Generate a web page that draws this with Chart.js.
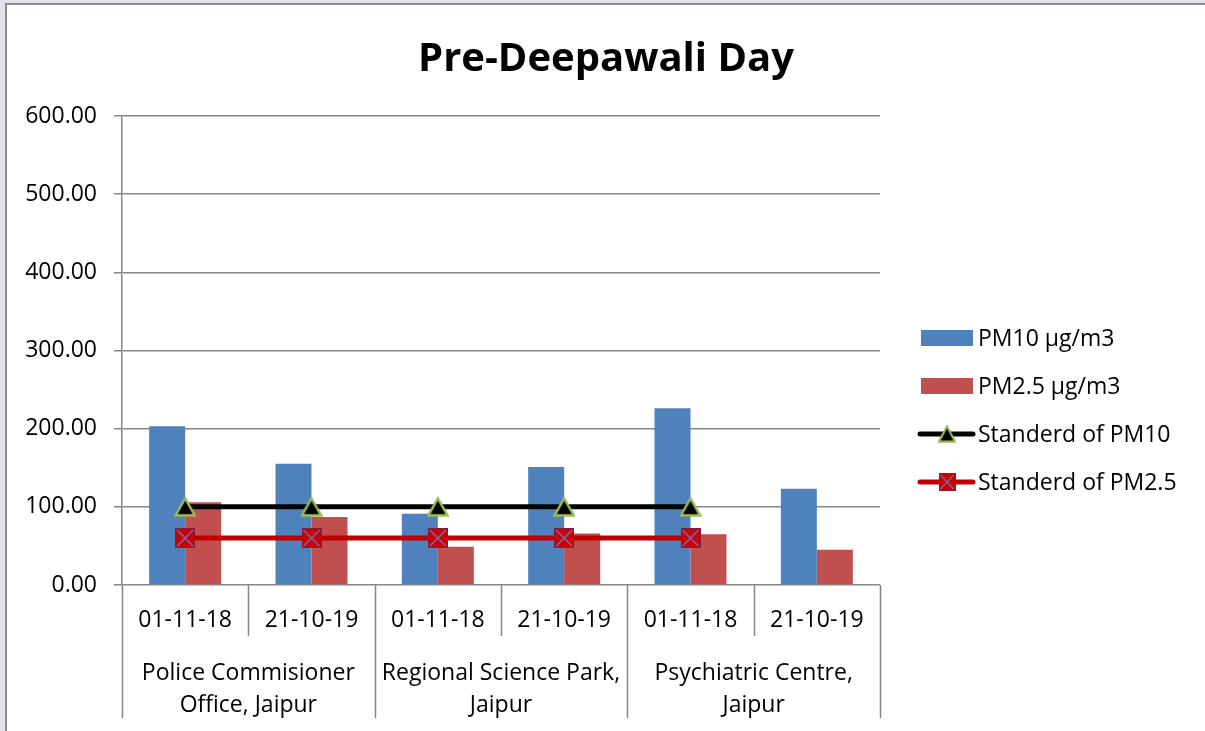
<!DOCTYPE html>
<html>
<head>
<meta charset="utf-8">
<script src="https://cdn.jsdelivr.net/npm/chart.js@4.4.1/dist/chart.umd.min.js"></script>
<style>
  html, body { margin: 0; padding: 0; background: #e3dfeb; }
  #wrap { width: 1205px; height: 731px; position: relative; }
</style>
</head>
<body>
<div id="wrap"><canvas id="c" width="1205" height="731"></canvas></div>
<script>
// Sampling dates (inner axis level) and monitoring sites (outer axis level)
const dates = ['01-11-18', '21-10-19', '01-11-18', '21-10-19', '01-11-18', '21-10-19'];
const sites = [
  ['Police Commisioner', 'Office, Jaipur'],
  ['Regional Science Park,', 'Jaipur'],
  ['Psychiatric Centre,', 'Jaipur']
];
// Measured concentrations
const pm10 = [203, 155, 91, 151, 226, 123];
const pm25 = [106, 87, 49, 66, 65, 45];
// National standards
const stdPm10 = [100, 100, 100, 100, 100, null];
const stdPm25 = [60, 60, 60, 60, 60, null];
// Value axis
const yMin = 0, yMax = 600, yStep = 100;

const FONT = '"Open Sans"';
const GRID = '#868686';
const BLUE = '#4f81bd', RED = '#c0504d';

// Marker images
function triangleMarker(w, h) {
  const c = document.createElement('canvas');
  c.width = w; c.height = h;
  const g = c.getContext('2d');
  g.beginPath();
  g.moveTo(w / 2, 1.5);
  g.lineTo(w - 1.5, h - 1.5);
  g.lineTo(1.5, h - 1.5);
  g.closePath();
  g.fillStyle = '#000';
  g.fill();
  g.strokeStyle = '#9bbb59';
  g.lineWidth = 2.5;
  g.stroke();
  return c;
}
function crossBoxMarker(s) {
  const c = document.createElement('canvas');
  c.width = s; c.height = s;
  const g = c.getContext('2d');
  g.fillStyle = '#cc0000';
  g.fillRect(0, 0, s, s);
  g.strokeStyle = '#8b1a3a';
  g.lineWidth = 1;
  g.strokeRect(0.5, 0.5, s - 1, s - 1);
  g.strokeStyle = '#7a6bb5';
  g.lineWidth = 1.6;
  g.beginPath();
  g.moveTo(2, 2); g.lineTo(s - 2, s - 2);
  g.moveTo(s - 2, 2); g.lineTo(2, s - 2);
  g.stroke();
  return c;
}
const triImg = triangleMarker(22, 20);
const boxImg = crossBoxMarker(20);

// Card background and border
const cardPlugin = {
  id: 'card',
  beforeDraw(chart) {
    const ctx = chart.ctx;
    ctx.save();
    ctx.fillStyle = '#e3dfeb';
    ctx.fillRect(0, 0, chart.width, chart.height);
    ctx.fillStyle = '#ffffff';
    ctx.fillRect(6, 4, chart.width - 6, chart.height - 4);
    ctx.strokeStyle = '#8c8c8c';
    ctx.lineWidth = 2;
    ctx.beginPath();
    ctx.moveTo(6, chart.height);
    ctx.lineTo(6, 4);
    ctx.lineTo(chart.width, 4);
    ctx.stroke();
    ctx.restore();
  }
};

// Title, two-level category axis and legend
const decorPlugin = {
  id: 'decor',
  afterDraw(chart) {
    const ctx = chart.ctx;
    const x = chart.scales.x;
    const area = chart.chartArea;
    const n = dates.length;
    const w = (area.right - area.left) / n;
    ctx.save();

    // title
    ctx.fillStyle = '#000';
    ctx.font = `bold 40px ${FONT}`;
    ctx.textAlign = 'center';
    ctx.textBaseline = 'alphabetic';
    ctx.fillText('Pre-Deepawali Day', 606, 71);

    // axis separators
    ctx.strokeStyle = GRID;
    ctx.lineWidth = 1.5;
    for (let i = 0; i <= n; i++) {
      const px = Math.round(area.left + i * w) + 0.5;
      ctx.beginPath();
      ctx.moveTo(px, area.bottom);
      ctx.lineTo(px, area.bottom + (i % 2 === 0 ? 133 : 51));
      ctx.stroke();
    }

    // date labels
    ctx.textBaseline = 'middle';
    ctx.font = `23px ${FONT}`;
    ctx.fillStyle = '#000';
    dates.forEach((d, i) => {
      ctx.fillText(d, x.getPixelForValue(i), area.bottom + 35);
    });
    // site labels
    sites.forEach((lines, k) => {
      const cx = (x.getPixelForValue(2 * k) + x.getPixelForValue(2 * k + 1)) / 2;
      lines.forEach((t, j) => ctx.fillText(t, cx, area.bottom + 88 + j * 32));
    });

    // legend
    const ds = chart.data.datasets;
    const lx = 921, tx = 978;
    const rows = [338, 386, 434, 482];
    ctx.textAlign = 'left';
    ctx.font = `23px ${FONT}`;
    rows.forEach((cy, i) => {
      const d = ds[i];
      if (d.type === 'bar') {
        ctx.fillStyle = d.backgroundColor;
        ctx.fillRect(lx, cy - 8, 52, 16);
      } else {
        ctx.strokeStyle = d.borderColor;
        ctx.lineWidth = 5;
        ctx.lineCap = 'round';
        ctx.beginPath();
        ctx.moveTo(lx - 1, cy);
        ctx.lineTo(lx + 52, cy);
        ctx.stroke();
        const img = d.pointStyle;
        const iw = img.width * 0.85, ih = img.height * 0.9;
        ctx.drawImage(img, lx + 26 - iw / 2, cy - ih / 2, iw, ih);
      }
      ctx.fillStyle = '#000';
      ctx.fillText(d.label, tx, cy + 1);
    });
    ctx.restore();
  }
};

new Chart(document.getElementById('c'), {
  data: {
    labels: dates,
    datasets: [
      { type: 'bar', label: 'PM10 µg/m3', data: pm10, backgroundColor: BLUE,
        categoryPercentage: 0.57, barPercentage: 1.0, order: 3 },
      { type: 'bar', label: 'PM2.5 µg/m3', data: pm25, backgroundColor: RED,
        categoryPercentage: 0.57, barPercentage: 1.0, order: 3 },
      { type: 'line', label: 'Standerd of PM10', data: stdPm10, borderColor: '#000000',
        borderWidth: 5, pointStyle: triImg, pointRadius: 10, order: 1, spanGaps: false },
      { type: 'line', label: 'Standerd of PM2.5', data: stdPm25, borderColor: '#c00000',
        borderWidth: 5, pointStyle: boxImg, pointRadius: 10, order: 2, spanGaps: false }
    ]
  },
  options: {
    responsive: false,
    animation: false,
    events: [],
    layout: { padding: { top: 116, right: 325, bottom: 0, left: 0 } },
    plugins: { legend: { display: false }, title: { display: false }, tooltip: { enabled: false } },
    scales: {
      x: {
        type: 'category',
        offset: true,
        grid: { display: false },
        border: { display: false },
        ticks: { display: false },
        afterFit(scale) { scale.height = 146; }
      },
      y: {
        min: yMin, max: yMax,
        ticks: {
          stepSize: yStep,
          color: '#000',
          font: { family: 'Open Sans', size: 23 },
          padding: 17,
          callback: v => v.toFixed(2)
        },
        grid: { color: GRID, lineWidth: 1.5, tickLength: 8 },
        border: { color: GRID, width: 1.5 },
        afterFit(scale) { scale.width = 122; }
      }
    }
  },
  plugins: [cardPlugin, decorPlugin]
});
</script>
</body>
</html>
